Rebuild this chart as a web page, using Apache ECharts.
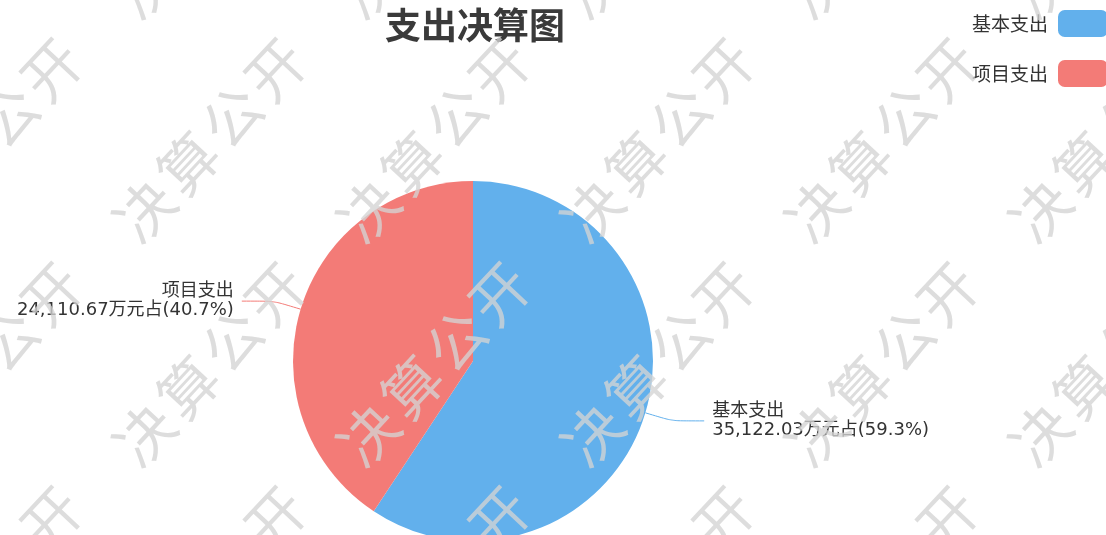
<!DOCTYPE html>
<html>
<head>
<meta charset="utf-8">
<title>支出决算图</title>
<script src="https://cdn.jsdelivr.net/npm/echarts@6/dist/echarts.min.js"></script>
<style>
  html, body { margin: 0; padding: 0; background: #fff; }
  #chart { width: 1106px; height: 535px; }
</style>
</head>
<body>
<div id="chart"></div>
<script>
var categories = ['基本支出', '项目支出'];
var values = [35122.03, 24110.67];
var colors = ['#62b0ec', '#f37b77'];
var watermarkText = '决算公开';

// watermark tile, drawn once and repeated over the whole chart
function makeWatermark() {
    var size = 224;
    var c = document.createElement('canvas');
    c.width = size;
    c.height = size;
    var ctx = c.getContext('2d');
    ctx.fillStyle = 'rgba(212,212,212,0.78)';
    ctx.font = '58px "Noto Sans CJK SC"';
    ctx.textAlign = 'center';
    ctx.textBaseline = 'middle';
    var angle = -47 * Math.PI / 180;
    var step = 64;
    var cx = 210, cy = 140;
    for (var ox = -1; ox <= 1; ox++) {
        for (var oy = -1; oy <= 1; oy++) {
            for (var i = 0; i < watermarkText.length; i++) {
                var d = (i - 1.5) * step;
                ctx.save();
                ctx.translate(cx + ox * size + d * Math.cos(angle), cy + oy * size + d * Math.sin(angle));
                ctx.rotate(angle);
                ctx.fillText(watermarkText[i], 0, 0);
                ctx.restore();
            }
        }
    }
    return c;
}

function fmt(v) {
    return v.toLocaleString('en-US', { minimumFractionDigits: 2, maximumFractionDigits: 2 });
}

var pieData = categories.map(function (name, i) {
    return { name: name, value: values[i] };
});

var textFont = '"DejaVu Sans", "Noto Sans CJK SC", sans-serif';

var myChart = echarts.init(document.getElementById('chart'));
var option = {
    animation: false,
    color: colors,
    title: {
        text: '支出决算图',
        left: 380,
        top: 2,
        textStyle: {
            fontSize: 36,
            fontWeight: 'bold',
            color: '#3a3a3a',
            fontFamily: '"Noto Sans CJK SC", sans-serif'
        }
    },
    legend: {
        orient: 'vertical',
        right: -7,
        top: 5,
        align: 'right',
        itemWidth: 50,
        itemHeight: 27,
        itemGap: 23,
        data: categories,
        textStyle: {
            fontSize: 19,
            color: '#333',
            padding: [0, 5, 0, 0],
            fontFamily: '"Noto Sans CJK SC", sans-serif'
        }
    },
    graphic: [{
        type: 'rect',
        silent: true,
        z: 100,
        shape: { x: 0, y: 0, width: 1106, height: 535 },
        style: { fill: { image: makeWatermark(), repeat: 'repeat' } }
    }],
    series: [{
        type: 'pie',
        center: [473, 361],
        radius: 180,
        percentPrecision: 1,
        data: pieData,
        label: {
            show: true,
            position: 'outside',
            fontSize: 18,
            lineHeight: 19,
            color: '#333',
            distanceToLabelLine: 8,
            fontFamily: textFont,
            formatter: function (p) {
                return p.name + '\n' + fmt(p.value) + '万元占(' + p.percent + '%)';
            }
        },
        labelLine: {
            length: 28,
            length2: 32,
            smooth: 0.2,
            lineStyle: { width: 1 }
        }
    }]
};
myChart.setOption(option);
</script>
</body>
</html>
